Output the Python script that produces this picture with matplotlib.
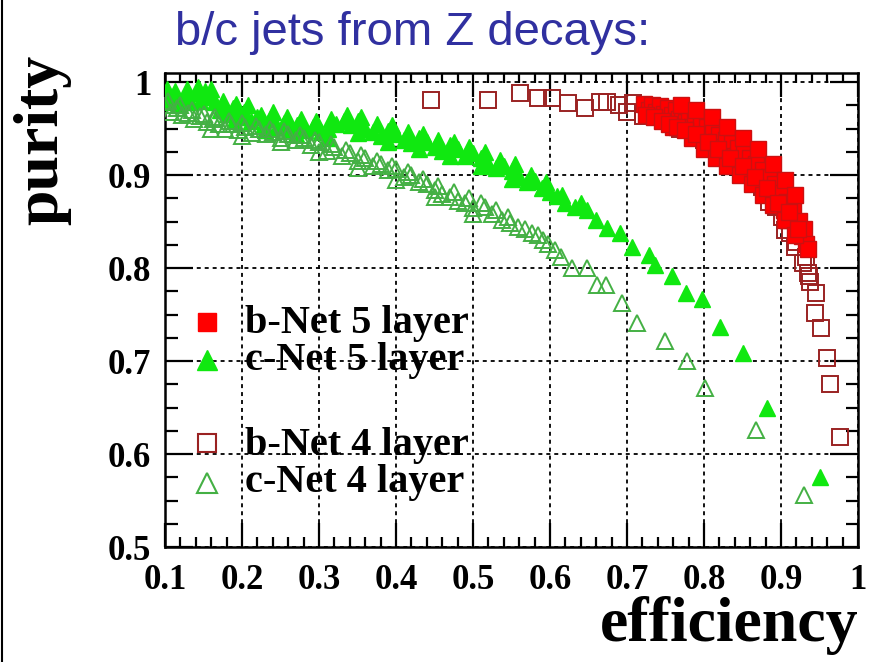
import matplotlib
matplotlib.use("Agg")
import matplotlib.pyplot as plt
from matplotlib.lines import Line2D
from matplotlib.ticker import MultipleLocator

# ---- data -------------------------------------------------------------
# b-Net, 5-layer vertex detector (filled squares)
b5_eff = [0.722, 0.728, 0.733, 0.738, 0.743, 0.748, 0.753, 0.758, 0.763, 0.768,
          0.772, 0.776, 0.780, 0.784, 0.788, 0.792, 0.796, 0.800, 0.804, 0.808,
          0.812, 0.816, 0.820, 0.824, 0.828, 0.832, 0.836, 0.840, 0.844, 0.848,
          0.852, 0.856, 0.860, 0.864, 0.868, 0.872, 0.876, 0.880, 0.884, 0.888,
          0.892, 0.896, 0.900, 0.904, 0.908, 0.912, 0.916, 0.920, 0.924, 0.927,
          0.930, 0.932, 0.935,
          0.760, 0.785, 0.800, 0.815, 0.830, 0.847, 0.862, 0.877, 0.890, 0.905,
          0.918,
          0.725, 0.735, 0.745, 0.755, 0.765, 0.775, 0.790, 0.805, 0.818, 0.834,
          0.850, 0.866, 0.882, 0.896, 0.910, 0.922, 0.770, 0.790, 0.810, 0.830,
          0.850, 0.870, 0.890, 0.905, 0.918]
b5_pur = [0.976, 0.970, 0.975, 0.968, 0.974, 0.966, 0.972, 0.964, 0.970, 0.960,
          0.967, 0.957, 0.964, 0.952, 0.960, 0.948, 0.956, 0.943, 0.952, 0.940,
          0.947, 0.935, 0.943, 0.930, 0.938, 0.925, 0.934, 0.920, 0.929, 0.914,
          0.924, 0.909, 0.918, 0.902, 0.912, 0.896, 0.905, 0.889, 0.898, 0.880,
          0.890, 0.872, 0.881, 0.862, 0.871, 0.852, 0.862, 0.842, 0.851, 0.834,
          0.842, 0.826, 0.820,
          0.952, 0.940, 0.928, 0.918, 0.910, 0.900, 0.890, 0.878, 0.868, 0.852,
          0.835,
          0.965, 0.962, 0.958, 0.955, 0.952, 0.948, 0.944, 0.935, 0.928, 0.918,
          0.910, 0.898, 0.886, 0.870, 0.860, 0.842, 0.975, 0.970, 0.962, 0.952,
          0.940, 0.928, 0.912, 0.895, 0.878]

# c-Net, 5-layer vertex detector (filled triangles)
c5_eff = [0.100, 0.105, 0.110, 0.118, 0.125, 0.132, 0.140, 0.146, 0.152, 0.158,
          0.165, 0.172, 0.180, 0.188, 0.195, 0.203, 0.212, 0.220, 0.228, 0.236,
          0.245, 0.254, 0.262, 0.272, 0.282, 0.292, 0.302, 0.312, 0.322, 0.332,
          0.342, 0.350, 0.360, 0.370, 0.380, 0.390, 0.400, 0.410, 0.420, 0.430,
          0.440, 0.450, 0.460, 0.470, 0.480, 0.490, 0.500, 0.510, 0.520, 0.530,
          0.540, 0.550, 0.560, 0.570, 0.580, 0.590, 0.600, 0.609, 0.620, 0.633,
          0.648, 0.660, 0.674, 0.691, 0.706, 0.728, 0.736, 0.758, 0.777, 0.797,
          0.821, 0.851, 0.882, 0.951,
          0.103, 0.113, 0.128, 0.143, 0.160, 0.175, 0.192, 0.208, 0.225, 0.240,
          0.258, 0.276, 0.296, 0.316, 0.336, 0.355, 0.375, 0.395, 0.415, 0.435,
          0.455, 0.475, 0.495, 0.515, 0.535, 0.555, 0.575, 0.595, 0.615, 0.640,
          0.190, 0.230, 0.270, 0.310, 0.350, 0.390, 0.430, 0.470, 0.510, 0.550]
c5_pur = [0.985, 0.978, 0.982, 0.975, 0.983, 0.978, 0.988, 0.980, 0.990, 0.984,
          0.978, 0.970, 0.966, 0.972, 0.962, 0.968, 0.958, 0.962, 0.955, 0.960,
          0.952, 0.956, 0.950, 0.954, 0.948, 0.952, 0.946, 0.950, 0.955, 0.958,
          0.954, 0.958, 0.950, 0.946, 0.942, 0.947, 0.944, 0.938, 0.934, 0.940,
          0.936, 0.930, 0.926, 0.932, 0.928, 0.920, 0.924, 0.918, 0.912, 0.908,
          0.910, 0.904, 0.898, 0.892, 0.894, 0.886, 0.882, 0.877, 0.870, 0.866,
          0.862, 0.852, 0.843, 0.838, 0.823, 0.814, 0.803, 0.791, 0.773, 0.767,
          0.737, 0.709, 0.649, 0.575,
          0.992, 0.990, 0.992, 0.995, 0.993, 0.980, 0.976, 0.975, 0.965, 0.968,
          0.962, 0.960, 0.958, 0.960, 0.964, 0.962, 0.955, 0.954, 0.946, 0.944,
          0.938, 0.936, 0.930, 0.925, 0.916, 0.912, 0.900, 0.893, 0.878, 0.870,
          0.958, 0.948, 0.944, 0.940, 0.945, 0.936, 0.928, 0.920, 0.910, 0.896]

# b-Net, 4-layer vertex detector (open squares)
b4_eff = [0.445, 0.519, 0.561, 0.585, 0.602, 0.624, 0.645, 0.665, 0.674, 0.689,
          0.700, 0.708, 0.721, 0.730, 0.745, 0.769, 0.785, 0.800, 0.812, 0.825,
          0.842, 0.855, 0.866, 0.875, 0.884, 0.893, 0.901, 0.905, 0.912, 0.918,
          0.920, 0.929, 0.933, 0.935, 0.936, 0.938, 0.946, 0.944, 0.952, 0.960,
          0.964, 0.977]
b4_pur = [0.981, 0.981, 0.988, 0.983, 0.983, 0.977, 0.972, 0.979, 0.979, 0.975,
          0.968, 0.977, 0.963, 0.970, 0.966, 0.950, 0.952, 0.938, 0.928, 0.918,
          0.916, 0.902, 0.895, 0.887, 0.871, 0.866, 0.855, 0.841, 0.838, 0.823,
          0.828, 0.805, 0.812, 0.795, 0.791, 0.785, 0.773, 0.752, 0.735, 0.703,
          0.675, 0.618]

# c-Net, 4-layer vertex detector (open triangles)
c4_eff = [0.100, 0.108, 0.115, 0.122, 0.130, 0.138, 0.146, 0.154, 0.162, 0.170,
          0.178, 0.186, 0.195, 0.204, 0.213, 0.222, 0.231, 0.240, 0.250, 0.260,
          0.270, 0.280, 0.290, 0.300, 0.310, 0.320, 0.330, 0.340, 0.350, 0.360,
          0.370, 0.380, 0.390, 0.400, 0.410, 0.420, 0.430, 0.440, 0.450, 0.460,
          0.470, 0.480, 0.490, 0.500, 0.516, 0.525, 0.538, 0.548, 0.558, 0.577,
          0.591, 0.606, 0.628, 0.648, 0.661, 0.673, 0.694, 0.713, 0.749, 0.778,
          0.801, 0.867, 0.930,
          0.104, 0.120, 0.135, 0.150, 0.165, 0.183, 0.200, 0.218, 0.236, 0.255,
          0.275, 0.295, 0.315, 0.335, 0.355, 0.375, 0.395, 0.415, 0.435, 0.455,
          0.475, 0.495, 0.510, 0.530, 0.545, 0.568, 0.585, 0.598, 0.614,
          0.160, 0.200, 0.250, 0.300, 0.350, 0.400, 0.450, 0.500]
c4_pur = [0.975, 0.968, 0.972, 0.964, 0.967, 0.960, 0.963, 0.957, 0.960, 0.955,
          0.950, 0.955, 0.948, 0.952, 0.945, 0.950, 0.944, 0.946, 0.940, 0.944,
          0.938, 0.940, 0.932, 0.935, 0.926, 0.930, 0.920, 0.924, 0.915, 0.918,
          0.910, 0.912, 0.905, 0.906, 0.898, 0.900, 0.892, 0.890, 0.884, 0.880,
          0.876, 0.872, 0.870, 0.864, 0.866, 0.858, 0.852, 0.848, 0.844, 0.838,
          0.830, 0.819, 0.800, 0.800, 0.782, 0.782, 0.762, 0.741, 0.722, 0.700,
          0.671, 0.626, 0.556,
          0.980, 0.975, 0.970, 0.966, 0.962, 0.958, 0.956, 0.953, 0.950, 0.947,
          0.943, 0.938, 0.933, 0.927, 0.921, 0.915, 0.910, 0.903, 0.896, 0.888,
          0.882, 0.875, 0.870, 0.862, 0.855, 0.842, 0.835, 0.826, 0.812,
          0.950, 0.942, 0.935, 0.925, 0.908, 0.895, 0.876, 0.858]

x_ticks = [0.1, 0.2, 0.3, 0.4, 0.5, 0.6, 0.7, 0.8, 0.9, 1.0]
x_tick_labels = ["0.1", "0.2", "0.3", "0.4", "0.5", "0.6", "0.7", "0.8", "0.9", "1"]
y_ticks = [0.5, 0.6, 0.7, 0.8, 0.9, 1.0]
y_tick_labels = ["0.5", "0.6", "0.7", "0.8", "0.9", "1"]

legend_labels = ["b-Net 5 layer", "c-Net 5 layer", "b-Net 4 layer", "c-Net 4 layer"]

# ---- style ------------------------------------------------------------
SERIF = "Liberation Serif"
RED_FILL = "#ff0000"
RED_EDGE = "#9a2222"
GREEN_FILL = "#10e810"
GREEN_EDGE = "#44b044"

fig = plt.figure(figsize=(8.71, 6.62), dpi=100)
ax = fig.add_axes([165 / 871, 1 - 547 / 662, 693 / 871, 474 / 662])

ax.set_xlim(0.1, 1.0)
ax.set_ylim(0.5, 1.0097)

# dotted grid at major ticks
ax.grid(True, which="major", color="black", linestyle=(0, (2.2, 2.2)), linewidth=1.3)
ax.set_axisbelow(True)

# series: green filled under green open; red open under red filled
ax.plot(c5_eff, c5_pur, linestyle="none", marker="^", markersize=11.5,
        markerfacecolor=GREEN_FILL, markeredgecolor=GREEN_FILL, zorder=3)
ax.plot(c4_eff, c4_pur, linestyle="none", marker="^", markersize=11.5,
        markerfacecolor="none", markeredgecolor=GREEN_EDGE, markeredgewidth=1.4, zorder=4)
ax.plot(b4_eff, b4_pur, linestyle="none", marker="s", markersize=11,
        markerfacecolor="none", markeredgecolor=RED_EDGE, markeredgewidth=1.4, zorder=3)
ax.plot(b5_eff, b5_pur, linestyle="none", marker="s", markersize=11,
        markerfacecolor=RED_FILL, markeredgecolor="#cc1010", markeredgewidth=1.0, zorder=4)

# ticks (ROOT-like: inward, on all four sides)
ax.set_xticks(x_ticks)
ax.set_xticklabels(x_tick_labels)
ax.set_yticks(y_ticks)
ax.set_yticklabels(y_tick_labels)
ax.xaxis.set_minor_locator(MultipleLocator(0.02))
ax.yaxis.set_minor_locator(MultipleLocator(0.025))
ax.tick_params(axis="both", which="both", direction="in", top=True, right=True,
               width=1.6, color="black")
ax.tick_params(axis="x", which="major", length=17, pad=12)
ax.tick_params(axis="x", which="minor", length=7.5)
ax.tick_params(axis="y", which="major", length=20, pad=10)
ax.tick_params(axis="y", which="minor", length=9)
for lbl in ax.get_xticklabels() + ax.get_yticklabels():
    lbl.set_fontfamily(SERIF)
    lbl.set_fontweight("bold")
    lbl.set_fontsize(25)
for sp in ax.spines.values():
    sp.set_linewidth(1.8)

# legend, drawn as keys + labels in axes coordinates
legend_rows = [
    (0.475, 0.4515, dict(marker="s", markersize=13, markerfacecolor=RED_FILL,
                          markeredgecolor=RED_FILL)),
    (0.3945, 0.373, dict(marker="^", markersize=14, markerfacecolor=GREEN_FILL,
                          markeredgecolor=GREEN_FILL)),
    (0.219, 0.194, dict(marker="s", markersize=13, markerfacecolor="none",
                         markeredgecolor=RED_EDGE, markeredgewidth=1.5)),
    (0.135, 0.116, dict(marker="^", markersize=14, markerfacecolor="none",
                         markeredgecolor=GREEN_EDGE, markeredgewidth=1.5)),
]
for (ym, yt, mk), label in zip(legend_rows, legend_labels):
    ax.plot([0.061], [ym], linestyle="none", transform=ax.transAxes,
            clip_on=False, zorder=6, **mk)
    ax.text(0.115, yt, label, transform=ax.transAxes, ha="left", va="baseline",
            fontfamily=SERIF, fontweight="bold", fontsize=29, zorder=6)

# axis titles, ROOT-style placement at the far ends
fig.text(858 / 871, 1 - 641 / 662, "efficiency", ha="right", va="baseline",
         fontfamily=SERIF, fontweight="bold", fontsize=46)
fig.text(42 / 871, 1 - 55 / 662, "purity", ha="center", va="top", rotation=90,
         fontfamily=SERIF, fontweight="bold", fontsize=46)

# headline
fig.text(413 / 871, 1 - 45 / 662, "b/c jets from Z decays:", ha="center",
         va="baseline", fontfamily="Liberation Sans", fontsize=34, color="#3030a0")

# frame line on the left edge of the slide
fig.add_artist(Line2D([0.0025, 0.0025], [0, 1], transform=fig.transFigure,
                      color="black", linewidth=1.5))

fig.savefig("out.png", dpi=100)
